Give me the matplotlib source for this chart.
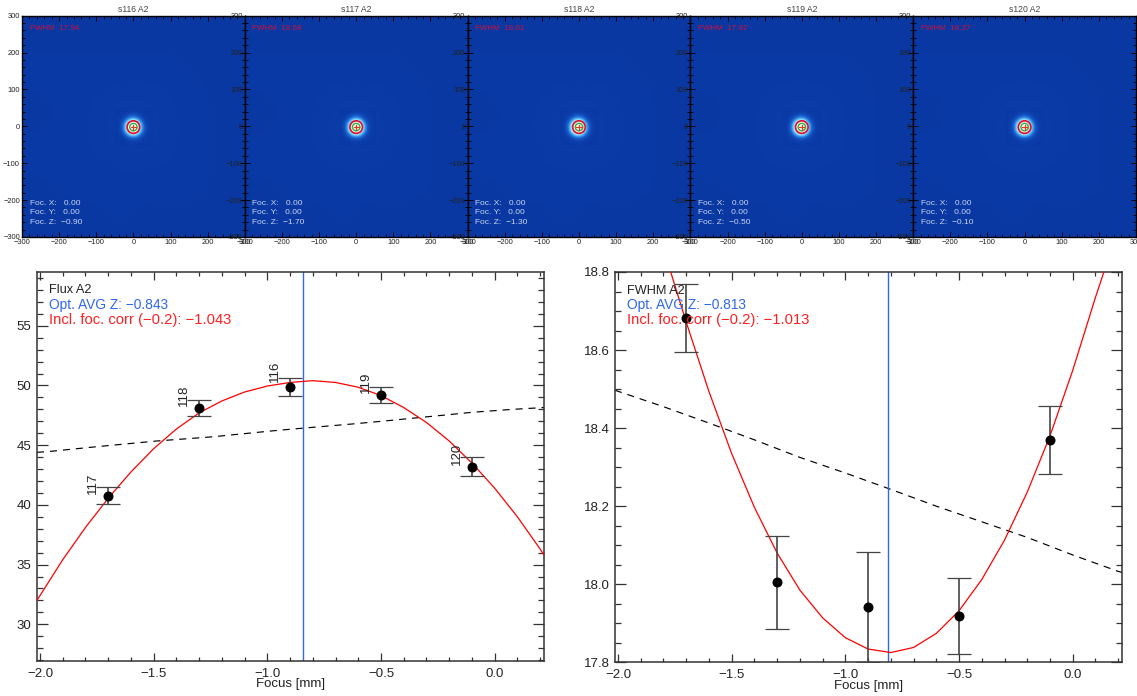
import numpy as np
import matplotlib
matplotlib.use("Agg")
import matplotlib.pyplot as plt
from matplotlib.colors import LinearSegmentedColormap
from matplotlib.ticker import MultipleLocator

plt.rcParams['font.family'] = ['Liberation Sans', 'DejaVu Sans']
W, H = 1137, 696

# ---- data: top panels
scan_titles = ["s116 A2", "s117 A2", "s118 A2", "s119 A2", "s120 A2"]
fwhm_text = ["17.94", "18.68", "18.01", "17.92", "18.37"]
foc_x = ["0.00"] * 5
foc_y = ["0.00"] * 5
foc_z = ["\u22120.90", "\u22121.70", "\u22121.30", "\u22120.50", "\u22120.10"]
background_grid = [
    [.11, .11, .11, .12, .11, .11, .11, .11],
    [.11, .12, .12, .12, .12, .12, .12, .11],
    [.12, .12, .12, .12, .12, .12, .12, .11],
    [.12, .12, .12, .13, .13, .12, .12, .11],
    [.11, .12, .12, .13, .13, .12, .12, .11],
    [.12, .12, .12, .12, .12, .12, .12, .11],
    [.12, .12, .12, .12, .12, .12, .11, .11],
    [.11, .11, .11, .11, .11, .11, .11, .11],
]
spot_grid = [
    [.12, .12, .12, .12, .12, .13, .12, .12, .12, .12, .12],
    [.12, .12, .13, .14, .18, .20, .17, .14, .13, .12, .12],
    [.12, .13, .15, .24, .36, .40, .30, .20, .14, .13, .12],
    [.12, .14, .24, .52, .90, .95, .78, .34, .17, .13, .12],
    [.12, .15, .34, .90, 1.0, 1.0, 1.0, .62, .22, .14, .12],
    [.12, .15, .38, .95, 1.0, 1.0, 1.0, .68, .24, .15, .12],
    [.12, .15, .32, .88, 1.0, 1.0, 1.0, .60, .22, .14, .12],
    [.12, .13, .20, .45, .82, .88, .68, .32, .17, .13, .12],
    [.12, .12, .14, .19, .26, .30, .24, .17, .14, .12, .12],
    [.12, .12, .12, .13, .15, .15, .14, .13, .12, .12, .12],
    [.12, .12, .12, .12, .12, .13, .12, .12, .12, .12, .12],
]
ring_radii = [17, 10]

# ---- data: flux plot
scan_numbers = ["116", "117", "118", "119", "120"]
scan_focus = [-0.9, -1.7, -1.3, -0.5, -0.1]
flux_val = [49.86, 40.78, 48.10, 49.20, 43.20]
flux_hi = [50.64, 41.48, 48.74, 49.85, 43.99]
flux_lo = [49.10, 40.08, 47.46, 48.57, 42.43]
flux_fit_x = [-2.013, -2.0, -1.9, -1.8, -1.7, -1.6, -1.5, -1.4, -1.3, -1.2, -1.1, -1.0, -0.9,
              -0.8, -0.7, -0.6, -0.5, -0.4, -0.3, -0.2, -0.1, 0.0, 0.1, 0.2, 0.217]
flux_fit_y = [32.0, 32.4, 35.4, 38.1, 40.55, 42.75, 44.7, 46.35, 47.7, 48.7, 49.45, 49.95, 50.25,
              50.4, 50.25, 49.85, 49.15, 48.15, 46.9, 45.35, 43.5, 41.4, 39.0, 36.3, 35.8]
flux_ref_x = [-2.013, -1.965, -1.735, -1.485, -1.24, -0.976, -0.857, -0.61, -0.47, -0.23, -0.1, 0.08, 0.217]
flux_ref_y = [44.4, 44.46, 44.9, 45.35, 45.7, 46.2, 46.4, 46.8, 47.05, 47.5, 47.75, 48.0, 48.15]
flux_opt = -0.843

# ---- data: FWHM plot
fwhm_focus = [-1.7, -1.3, -0.9, -0.5, -0.1]
fwhm_val = [18.683, 18.005, 17.942, 17.918, 18.369]
fwhm_hi = [18.768, 18.124, 18.083, 18.016, 18.456]
fwhm_lo = [18.594, 17.885, 17.80, 17.822, 18.282]
fwhm_fit_x = [-1.768, -1.7, -1.6, -1.5, -1.4, -1.3, -1.2, -1.1, -1.0, -0.9, -0.8, -0.7,
              -0.6, -0.5, -0.4, -0.3, -0.2, -0.1, 0.0, 0.1, 0.137]
fwhm_fit_y = [18.8, 18.672, 18.494, 18.335, 18.197, 18.08, 17.985, 17.914, 17.863, 17.834,
              17.825, 17.838, 17.874, 17.932, 18.012, 18.113, 18.236, 18.38, 18.548, 18.735, 18.8]
fwhm_ref_x = [-2.013, -1.8, -1.6, -1.4, -1.2, -1.0, -0.8, -0.6, -0.4, -0.2, 0.0, 0.2, 0.218]
fwhm_ref_y = [18.497, 18.455, 18.413, 18.37, 18.325, 18.285, 18.243, 18.2, 18.16, 18.12, 18.075, 18.033, 18.03]
fwhm_opt = -0.813

BLUE = '#2f66ee'
DARK = '#333333'
cmap = LinearSegmentedColormap.from_list('spot', [
    (0.0, '#04237f'), (0.12, '#0a3aa6'), (0.3, '#1a62cf'),
    (0.5, '#3da0ef'), (0.7, '#8fd6f8'), (1.0, '#ffffff')])

fig = plt.figure(figsize=(W / 100, H / 100), dpi=100, facecolor='white')


def axes_px(l, t, r, b):
    return fig.add_axes([l / W, 1 - b / H, (r - l) / W, (b - t) / H])


def text_px(x, y, s, **kw):
    kw.setdefault('va', 'center')
    kw.setdefault('ha', 'left')
    return fig.text(x / W, 1 - y / H, s, zorder=20, **kw)


# ---- top row
for i in range(5):
    l = 22 + 222.8 * i
    ax = axes_px(l, 15.7, l + 222.8, 237)
    ax.imshow(background_grid, cmap=cmap, vmin=0, vmax=1, extent=(-300, 300, -300, 300),
              origin='lower', interpolation='bicubic', aspect='auto', zorder=1)
    ax.imshow(spot_grid, cmap=cmap, vmin=0, vmax=1, extent=(-50, 50, -52, 48),
              origin='upper', interpolation='bicubic', aspect='auto', zorder=2)
    ax.add_patch(plt.Circle((0, -2), ring_radii[0], fill=False, ec='#e0102a', lw=1.2, zorder=3))
    ax.add_patch(plt.Circle((0, -2), ring_radii[1], fill=False, ec='#35b040', lw=1.0, zorder=3))
    ax.plot([-7, 7], [-2, -2], color='#d84020', lw=0.9, zorder=4)
    ax.plot([0, 0], [-9, 5], color='#d84020', lw=0.9, zorder=4)
    ax.set_xlim(-300, 300)
    ax.set_ylim(-300, 300)
    ax.xaxis.set_major_locator(MultipleLocator(100))
    ax.yaxis.set_major_locator(MultipleLocator(100))
    ax.xaxis.set_minor_locator(MultipleLocator(20))
    ax.yaxis.set_minor_locator(MultipleLocator(20))
    ax.tick_params(which='major', direction='in', top=True, right=True, length=3.6,
                   width=0.7, labelsize=5.4, pad=1.5, labelcolor='#222222')
    ax.tick_params(which='minor', direction='in', top=True, right=True, length=2.0, width=0.6)
    for s in ax.spines.values():
        s.set_linewidth(1.0)
    cx = l + 111.4
    text_px(cx, 9, scan_titles[i], ha='center', fontsize=6.2, color='#444444')
    text_px(l + 7.5, 28, "FWHM  " + fwhm_text[i], fontsize=5.8, color='#d0103a')
    text_px(l + 7.5, 203, "Foc. X:   " + foc_x[i], fontsize=6.0, color='#c8d6f2')
    text_px(l + 7.5, 212.5, "Foc. Y:   " + foc_y[i], fontsize=6.0, color='#c8d6f2')
    text_px(l + 7.5, 222, "Foc. Z:  " + foc_z[i], fontsize=6.0, color='#c8d6f2')


def style_main(ax, ymajor, yminor):
    ax.xaxis.set_major_locator(MultipleLocator(0.5))
    ax.xaxis.set_minor_locator(MultipleLocator(0.1))
    ax.yaxis.set_major_locator(MultipleLocator(ymajor))
    ax.yaxis.set_minor_locator(MultipleLocator(yminor))
    ax.tick_params(axis='x', which='major', direction='in', top=True, length=5.8, width=0.9,
                   color=DARK, labelsize=9.5, labelcolor='#222222', pad=5)
    ax.tick_params(axis='x', which='minor', direction='in', top=True, length=2.9, width=0.9, color=DARK)
    ax.tick_params(axis='y', which='major', direction='in', right=True, length=8, width=0.9,
                   color=DARK, labelsize=9.5, labelcolor='#222222', pad=4)
    ax.tick_params(axis='y', which='minor', direction='in', right=True, length=4.5, width=0.9, color=DARK)
    for s in ax.spines.values():
        s.set_linewidth(1.1)
        s.set_color(DARK)
    ax.set_xlabel("Focus [mm]", fontsize=9.5, color='#222222', labelpad=-1)


def draw_main(ax, px, py, lo, hi, fx, fy, rx, ry, opt):
    ax.plot(rx, ry, color='black', lw=0.85, dashes=(6, 5), zorder=2)
    ax.axvline(opt, color=BLUE, lw=1.0, zorder=2)
    ax.plot(fx, fy, color='#ff0000', lw=0.9, zorder=3)
    p = np.array(py)
    yerr = [p - np.array(lo), np.array(hi) - p]
    ax.errorbar(px, py, yerr=yerr, fmt='none', ecolor='#444444', elinewidth=1.2,
                capsize=8.3, capthick=0.9, zorder=4)
    ax.plot(px, py, 'o', color='black', ms=7.2, mew=0, zorder=5)


# ---- flux plot
a1 = axes_px(37, 272, 544, 660.7)
a1.set_xlim(-2.013, 0.217)
a1.set_ylim(26.95, 59.5)
style_main(a1, 5, 1)
draw_main(a1, scan_focus, flux_val, flux_lo, flux_hi, flux_fit_x, flux_fit_y, flux_ref_x, flux_ref_y, flux_opt)
label_dy = [11.5, 9, 9, 9, 9]
for xv, yv, s, dy in zip(scan_focus, flux_val, scan_numbers, label_dy):
    a1.annotate(s, (xv, yv), xytext=(-10.8, dy), textcoords='offset points', rotation=90,
                ha='center', va='center', fontsize=9.5, color='#222222', zorder=6)
text_px(49, 290, "Flux A2", fontsize=9.2, color='#222222')
text_px(49, 304.7, "Opt. AVG Z: \u22120.843", fontsize=9.9, color=BLUE)
text_px(49, 319.7, "Incl. foc. corr (\u22120.2): \u22121.043", fontsize=10.6, color='#ff2020')

# ---- FWHM plot
a2 = axes_px(615, 272, 1122.3, 662.3)
a2.set_xlim(-2.013, 0.218)
a2.set_ylim(17.8, 18.8)
style_main(a2, 0.2, 0.05)
draw_main(a2, fwhm_focus, fwhm_val, fwhm_lo, fwhm_hi, fwhm_fit_x, fwhm_fit_y, fwhm_ref_x, fwhm_ref_y, fwhm_opt)
text_px(627, 291, "FWHM A2", fontsize=9.2, color='#222222')
text_px(627, 305, "Opt. AVG Z: \u22120.813", fontsize=9.9, color=BLUE)
text_px(627, 320, "Incl. foc. corr (\u22120.2): \u22121.013", fontsize=10.6, color='#ff2020')

fig.savefig('out.png', dpi=100)
